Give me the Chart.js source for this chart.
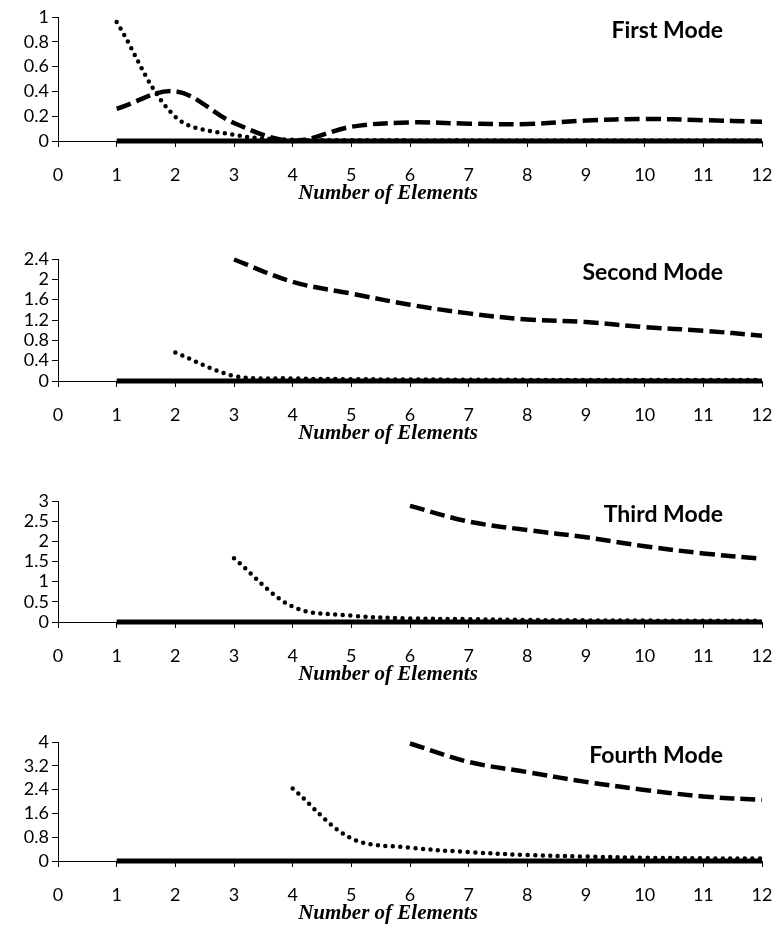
<!DOCTYPE html>
<html>
<head>
<meta charset="utf-8">
<script src="https://cdn.jsdelivr.net/npm/chart.js@4.4.0/dist/chart.umd.min.js"></script>
<style>
  html, body { margin: 0; padding: 0; background: #fff; overflow: hidden; width: 775px; height: 925px; }
  .panel { position: absolute; left: 0; width: 775px; height: 205px; }
</style>
</head>
<body>
<div class="panel" style="top:0px"><canvas id="mode1" width="775" height="205"></canvas></div>
<div class="panel" style="top:242px"><canvas id="mode2" width="775" height="205"></canvas></div>
<div class="panel" style="top:484px"><canvas id="mode3" width="775" height="205"></canvas></div>
<div class="panel" style="top:725px"><canvas id="mode4" width="775" height="205"></canvas></div>

<script>
    "use strict";

    // data (x = number of elements)
    const elements = [1, 2, 3, 4, 5, 6, 7, 8, 9, 10, 11, 12];
    const xTicks = [0, 1, 2, 3, 4, 5, 6, 7, 8, 9, 10, 11, 12];
    const modeTitles = ['First Mode', 'Second Mode', 'Third Mode', 'Fourth Mode'];

    const yTicks1 = [0, 0.2, 0.4, 0.6, 0.8, 1];
    const yTicks2 = [0, 0.4, 0.8, 1.2, 1.6, 2, 2.4];
    const yTicks3 = [0, 0.5, 1, 1.5, 2, 2.5, 3];
    const yTicks4 = [0, 0.8, 1.6, 2.4, 3.2, 4];

    const solidZero = [0, 0, 0, 0, 0, 0, 0, 0, 0, 0, 0, 0];

    const mode1Dashed = [0.26, 0.40, 0.145, 0.0, 0.115, 0.15, 0.14, 0.137, 0.165, 0.178, 0.168, 0.155];
    const mode1Dotted = [0.96, 0.195, 0.05, 0.01, 0.006, 0.005, 0.005, 0.004, 0.004, 0.004, 0.004, 0.004];

    const mode2Dashed = [null, null, 2.39, 1.95, 1.72, 1.5, 1.33, 1.21, 1.16, 1.06, 0.99, 0.89];
    const mode2Dotted = [null, 0.56, 0.1, 0.05, 0.035, 0.03, 0.025, 0.022, 0.02, 0.02, 0.02, 0.02];

    const mode3Dashed = [null, null, null, null, null, 2.88, 2.49, 2.28, 2.1, 1.88, 1.7, 1.57];
    const mode3Dotted = [null, null, 1.58, 0.38, 0.16, 0.09, 0.07, 0.05, 0.04, 0.035, 0.03, 0.03];

    const mode4Dashed = [null, null, null, null, null, 3.95, 3.33, 2.99, 2.66, 2.39, 2.17, 2.05];
    const mode4Dotted = [null, null, null, 2.44, 0.76, 0.45, 0.3, 0.2, 0.15, 0.11, 0.09, 0.08];

    Chart.defaults.font.family = 'Lato';
    Chart.defaults.color = '#000';

    function toPoints(values) {
        return values
            .map(function (v, i) { return { x: elements[i], y: v }; })
            .filter(function (p) { return p.y !== null; });
    }

    // panel title + axis title drawn inside the plot
    const panelText = {
        id: 'panelText',
        afterDraw: function (chart, args, opts) {
            const ctx = chart.ctx;
            const area = chart.chartArea;
            ctx.save();
            ctx.fillStyle = '#000';
            ctx.font = 'bold 23px Lato';
            ctx.textAlign = 'right';
            ctx.textBaseline = 'middle';
            ctx.fillText(opts.title, area.right - 39, area.top + 14);
            ctx.font = 'italic bold 21px "Liberation Serif"';
            ctx.textAlign = 'center';
            ctx.fillText('Number of Elements', area.left + 330, area.bottom + 53);
            ctx.restore();
        }
    };

    function makeChart(id, title, yTicks, plotHeight, dashed, dotted) {
        return new Chart(document.getElementById(id), {
            type: 'line',
            data: {
                datasets: [
                    { data: toPoints(solidZero), borderColor: '#000', borderWidth: 5, pointRadius: 0, tension: 0, clip: false },
                    { data: toPoints(dashed), borderColor: '#000', borderWidth: 4.5, borderDash: [15, 6], pointRadius: 0, tension: 0.35, clip: false },
                    { data: toPoints(dotted), borderColor: '#000', borderWidth: 4.5, borderDash: [0, 7.5], borderCapStyle: 'round', pointRadius: 0, tension: 0.35, clip: false }
                ]
            },
            options: {
                responsive: false,
                animation: false,
                events: [],
                layout: { padding: { top: 17, right: 13, left: 0, bottom: 0 } },
                plugins: {
                    legend: { display: false },
                    tooltip: { enabled: false },
                    panelText: { title: title }
                },
                scales: {
                    x: {
                        type: 'linear',
                        min: 0,
                        max: 12,
                        afterBuildTicks: function (s) { s.ticks = xTicks.map(function (v) { return { value: v }; }); },
                        afterFit: function (s) {
                            s.height = 205 - 17 - plotHeight;
                            s.paddingLeft = 0;
                            s.paddingRight = 0;
                        },
                        border: { color: '#000', width: 1 },
                        grid: { display: true, drawOnChartArea: false, drawTicks: true, tickLength: 6, color: '#000' },
                        ticks: { color: '#000', font: { size: 18 }, padding: 17, maxRotation: 0, autoSkip: false }
                    },
                    y: {
                        min: 0,
                        max: yTicks[yTicks.length - 1],
                        afterBuildTicks: function (s) { s.ticks = yTicks.map(function (v) { return { value: v }; }); },
                        afterFit: function (s) { s.width = 58; },
                        border: { color: '#000', width: 1 },
                        grid: { display: true, drawOnChartArea: false, drawTicks: true, tickLength: 6, color: '#000' },
                        ticks: {
                            color: '#000', font: { size: 18 }, padding: 3, autoSkip: false,
                            callback: function (v) { return String(Math.round(v * 10) / 10); }
                        }
                    }
                }
            },
            plugins: [panelText]
        });
    }

    makeChart('mode1', modeTitles[0], yTicks1, 124, mode1Dashed, mode1Dotted);
    makeChart('mode2', modeTitles[1], yTicks2, 122, mode2Dashed, mode2Dotted);
    makeChart('mode3', modeTitles[2], yTicks3, 121, mode3Dashed, mode3Dotted);
    makeChart('mode4', modeTitles[3], yTicks4, 119, mode4Dashed, mode4Dotted);
</script>
</body>
</html>
